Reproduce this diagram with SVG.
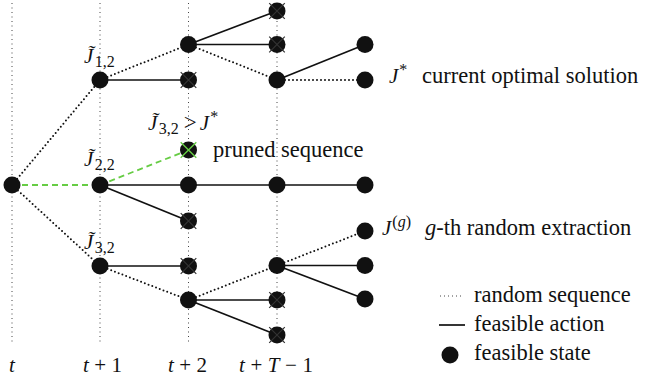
<svg xmlns="http://www.w3.org/2000/svg" width="646" height="378" viewBox="0 0 646 378" font-family="'Liberation Serif', 'DejaVu Serif', serif">
  <style>
    .grid { stroke: #444; stroke-width: 1; stroke-dasharray: 1 3.5; fill: none; }
    .rnd { stroke: #111; stroke-width: 2; stroke-dasharray: 0 4; stroke-linecap: round; fill: none; }
    .act { stroke: #111; stroke-width: 1.7; fill: none; }
    .prune { stroke: #66cc44; stroke-width: 1.8; stroke-dasharray: 6 4; fill: none; }
    .state { fill: #111; }
    .x { stroke: #333; stroke-width: 1.2; fill: none; }
    .xg { stroke: #66cc44; stroke-width: 1.4; fill: none; }
    text { font-family: 'Liberation Serif', 'DejaVu Serif', serif; fill: #111; }
    .lbl { font-size: 22.5px; }
    .m { font-size: 21px; }
    .i { font-style: italic; }
    .s { font-size: 16px; }
  </style>
  <defs>
    <path id="cross" d="M-7.8,-7.8 L7.8,7.8 M-7.8,7.8 L7.8,-7.8"/>
  </defs>

  <!-- time grid -->
  <g id="grid">
    <line class="grid" x1="12" y1="3" x2="12" y2="343"/>
    <line class="grid" x1="100" y1="3" x2="100" y2="343"/>
    <line class="grid" x1="188.5" y1="3" x2="188.5" y2="343"/>
    <line class="grid" x1="277" y1="3" x2="277" y2="343"/>
  </g>

  <!-- connectors -->
  <g id="connectors">
    <!-- random sequences -->
    <line class="rnd" x1="12" y1="185" x2="100" y2="80"/>
    <line class="rnd" x1="12" y1="185" x2="100" y2="266"/>
    <line class="rnd" x1="100" y1="80" x2="188.5" y2="44.5"/>
    <line class="rnd" x1="188.5" y1="44.5" x2="277" y2="80"/>
    <line class="rnd" x1="277" y1="80" x2="365" y2="80"/>
    <line class="rnd" x1="100" y1="266" x2="188.5" y2="300"/>
    <line class="rnd" x1="188.5" y1="300" x2="277" y2="265.5"/>
    <line class="rnd" x1="277" y1="265.5" x2="365" y2="231"/>
    <!-- pruned sequence -->
    <line class="prune" x1="12" y1="185" x2="100" y2="185"/>
    <line class="prune" x1="100" y1="185" x2="188.5" y2="150"/>
    <!-- feasible actions -->
    <line class="act" x1="100" y1="80" x2="188.5" y2="80"/>
    <line class="act" x1="188.5" y1="44.5" x2="277" y2="11"/>
    <line class="act" x1="188.5" y1="44.5" x2="277" y2="44.5"/>
    <line class="act" x1="277" y1="80" x2="365" y2="44.5"/>
    <line class="act" x1="100" y1="185" x2="365" y2="185"/>
    <line class="act" x1="100" y1="185" x2="188.5" y2="221"/>
    <line class="act" x1="100" y1="266" x2="188.5" y2="266"/>
    <line class="act" x1="188.5" y1="300" x2="277" y2="300"/>
    <line class="act" x1="188.5" y1="300" x2="277" y2="335"/>
    <line class="act" x1="277" y1="265.5" x2="365" y2="265.5"/>
    <line class="act" x1="277" y1="265.5" x2="365" y2="299"/>
  </g>

  <!-- states -->
  <g id="root"><circle class="state" cx="12" cy="185" r="8.5"/></g>
  <g id="s1a"><circle class="state" cx="100" cy="80" r="8.5"/></g>
  <g id="s1b"><circle class="state" cx="100" cy="185" r="8.5"/></g>
  <g id="s1c"><circle class="state" cx="100" cy="266" r="8.5"/></g>

  <g id="s2a"><circle class="state" cx="188.5" cy="44.5" r="8.5"/></g>
  <g id="s2b" transform="translate(188.5,80)"><circle class="state" r="8.5"/><use href="#cross" class="x"/></g>
  <g id="s2c" transform="translate(188.5,150)"><circle class="state" r="8.5"/><use href="#cross" class="xg"/></g>
  <g id="s2d"><circle class="state" cx="188.5" cy="185" r="8.5"/></g>
  <g id="s2e" transform="translate(188.5,221)"><circle class="state" r="8.5"/><use href="#cross" class="x"/></g>
  <g id="s2f" transform="translate(188.5,266)"><circle class="state" r="8.5"/><use href="#cross" class="x"/></g>
  <g id="s2g"><circle class="state" cx="188.5" cy="300" r="8.5"/></g>

  <g id="s3a" transform="translate(277,11)"><circle class="state" r="8.5"/><use href="#cross" class="x"/></g>
  <g id="s3b" transform="translate(277,44.5)"><circle class="state" r="8.5"/><use href="#cross" class="x"/></g>
  <g id="s3c"><circle class="state" cx="277" cy="80" r="8.5"/></g>
  <g id="s3d"><circle class="state" cx="277" cy="185" r="8.5"/></g>
  <g id="s3e"><circle class="state" cx="277" cy="265.5" r="8.5"/></g>
  <g id="s3f" transform="translate(277,300)"><circle class="state" r="8.5"/><use href="#cross" class="x"/></g>
  <g id="s3g" transform="translate(277,335)"><circle class="state" r="8.5"/><use href="#cross" class="x"/></g>

  <g id="s4a"><circle class="state" cx="365" cy="44.5" r="8.5"/></g>
  <g id="s4b"><circle class="state" cx="365" cy="80" r="8.5"/></g>
  <g id="s4c"><circle class="state" cx="365" cy="185" r="8.5"/></g>
  <g id="s4d"><circle class="state" cx="365" cy="231" r="8.5"/></g>
  <g id="s4e"><circle class="state" cx="365" cy="265.5" r="8.5"/></g>
  <g id="s4f"><circle class="state" cx="365" cy="299" r="8.5"/></g>

  <!-- cost labels -->
  <g id="lab-j12">
    <text class="m" x="84" y="63"><tspan class="i">J̃</tspan><tspan class="s" dx="1.5" dy="4">1,2</tspan></text>
  </g>
  <g id="lab-j22">
    <text class="m" x="84" y="166"><tspan class="i">J̃</tspan><tspan class="s" dx="1.5" dy="4">2,2</tspan></text>
  </g>
  <g id="lab-j32">
    <text class="m" x="84" y="249"><tspan class="i">J̃</tspan><tspan class="s" dx="1.5" dy="4">3,2</tspan></text>
  </g>
  <g id="lab-prune-cond">
    <text class="m" x="148" y="130"><tspan class="i">J̃</tspan><tspan class="s" dx="1.5" dy="4">3,2</tspan><tspan dx="5" dy="-4" font-size="23">&gt;</tspan><tspan class="i" dx="3">J</tspan><tspan class="s" dx="1" dy="-8">*</tspan></text>
  </g>
  <g id="lab-pruned"><text class="lbl" x="213" y="157">pruned sequence</text></g>
  <g id="lab-opt">
    <text class="m" x="389" y="83"><tspan class="i">J</tspan><tspan class="s" dx="1" dy="-8">*</tspan></text>
    <text class="lbl" x="422" y="83">current optimal solution</text>
  </g>
  <g id="lab-rand">
    <text class="m" x="382" y="235"><tspan class="i">J</tspan><tspan class="s" dx="1" dy="-8">(<tspan class="i">g</tspan>)</tspan></text>
    <text class="lbl" x="425" y="235"><tspan class="i">g</tspan>-th random extraction</text>
  </g>

  <!-- time axis labels -->
  <g id="axis">
    <text class="m" x="12" y="372" text-anchor="middle"><tspan class="i">t</tspan></text>
    <text class="m" x="83" y="372" textLength="39" lengthAdjust="spacing"><tspan class="i">t</tspan>+1</text>
    <text class="m" x="168" y="372" textLength="39" lengthAdjust="spacing"><tspan class="i">t</tspan>+2</text>
    <text class="m" x="239" y="372" textLength="74" lengthAdjust="spacing"><tspan class="i">t</tspan>+<tspan class="i">T</tspan>−1</text>
  </g>

  <!-- legend -->
  <g id="legend">
    <line class="grid" x1="440" y1="296" x2="464" y2="296" style="stroke-dasharray:1 3"/>
    <text class="lbl" x="474" y="302">random sequence</text>
    <line class="act" x1="439" y1="325" x2="465" y2="325"/>
    <text class="lbl" x="474" y="331">feasible action</text>
    <circle class="state" cx="450" cy="355" r="8.5"/>
    <text class="lbl" x="474" y="360">feasible state</text>
  </g>
</svg>
